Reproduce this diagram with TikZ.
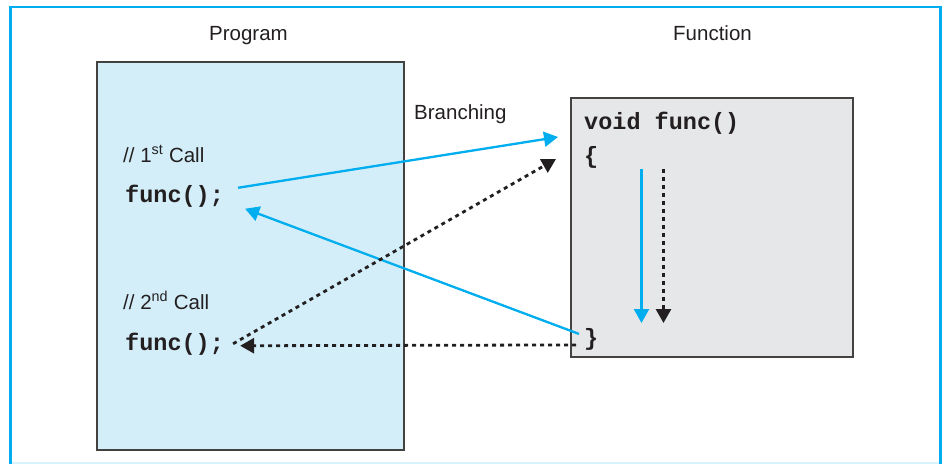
\documentclass[tikz,border=0pt]{standalone}
\usepackage{fontspec}
\setmainfont{Liberation Sans}
\setmonofont{Liberation Mono}
\usetikzlibrary{arrows.meta}
\definecolor{cyanline}{HTML}{00AEEF}
\definecolor{progfill}{HTML}{D3EEF9}
\definecolor{funcfill}{HTML}{E6E7E8}
\definecolor{ink}{HTML}{231F20}
\begin{document}
\begin{tikzpicture}[x=1pt,y=-1pt,
  box/.style={draw=ink!85, line width=1.4pt, inner sep=0pt},
  lbl/.style={font=\fontsize{20.5}{24}\selectfont, text=ink, inner sep=0pt},
  code/.style={font=\fontsize{23.5}{28}\selectfont\ttfamily\bfseries, text=ink, inner sep=0pt},
  flow/.style={cyanline, line width=2.3pt, -{Triangle[length=14pt,width=15pt]}},
  dotflow/.style={ink, line width=2.8pt, dash pattern=on 4pt off 4pt, -{Triangle[length=14pt,width=15pt]}}]
\useasboundingbox (0,0) rectangle (944,464);
% outer frame
\draw[cyanline!15, line width=1.5pt] (10,463.2) -- (940.5,463.2);
\draw[cyanline, line width=2.6pt] (10.3,464) -- (10.3,6.8) -- (940.5,6.8) -- (940.5,464);
% boxes
\node[box, fill=progfill, minimum width=307pt, minimum height=388pt] (prog) at (250.5,256) {};
\node[box, fill=funcfill, minimum width=282pt, minimum height=259pt] (func) at (712,227.5) {};
% labels
\node[lbl, anchor=base west] (progt) at (209,40) {Program};
\node[lbl, anchor=base west] (funct) at (673,40) {Function};
\node[lbl, anchor=base west] (branch) at (414,119) {Branching};
\node[lbl, anchor=base west] (c1) at (123,162) {// 1\textsuperscript{st} Call};
\node[code, anchor=base west] (call1) at (125,202) {func();};
\node[lbl, anchor=base west] (c2) at (123,309) {// 2\textsuperscript{nd} Call};
\node[code, anchor=base west] (call2) at (125,350) {func();};
\node[code, anchor=base west] (sig) at (584,129) {void func()};
\node[code, anchor=base west] (ob) at (584,163) {\{};
\node[code, anchor=base west] (cb) at (584,345) {\}};
% free ends
\coordinate (b1) at (558,137);
\coordinate (d1) at (556,159);
\coordinate (vtop) at (641.5,169);
\coordinate (vbot) at (641.5,323);
\coordinate (dtop) at (663.5,169);
\coordinate (dbot) at (663.5,323);
% connectors
\draw[flow] ([shift={(14,-8)}]call1.east) -- (b1);
\draw[flow] ([shift={(-5,-5)}]cb.west) -- ([shift={(21,13)}]call1.east);
\draw[dotflow] ([shift={(9,0)}]call2.east) -- (d1);
\draw[dotflow] ([shift={(-8,6)}]cb.west) -- ([shift={(16,2)}]call2.east);
\draw[flow] (vtop) -- (vbot);
\draw[dotflow] (dtop) -- (dbot);
\end{tikzpicture}
\end{document}
